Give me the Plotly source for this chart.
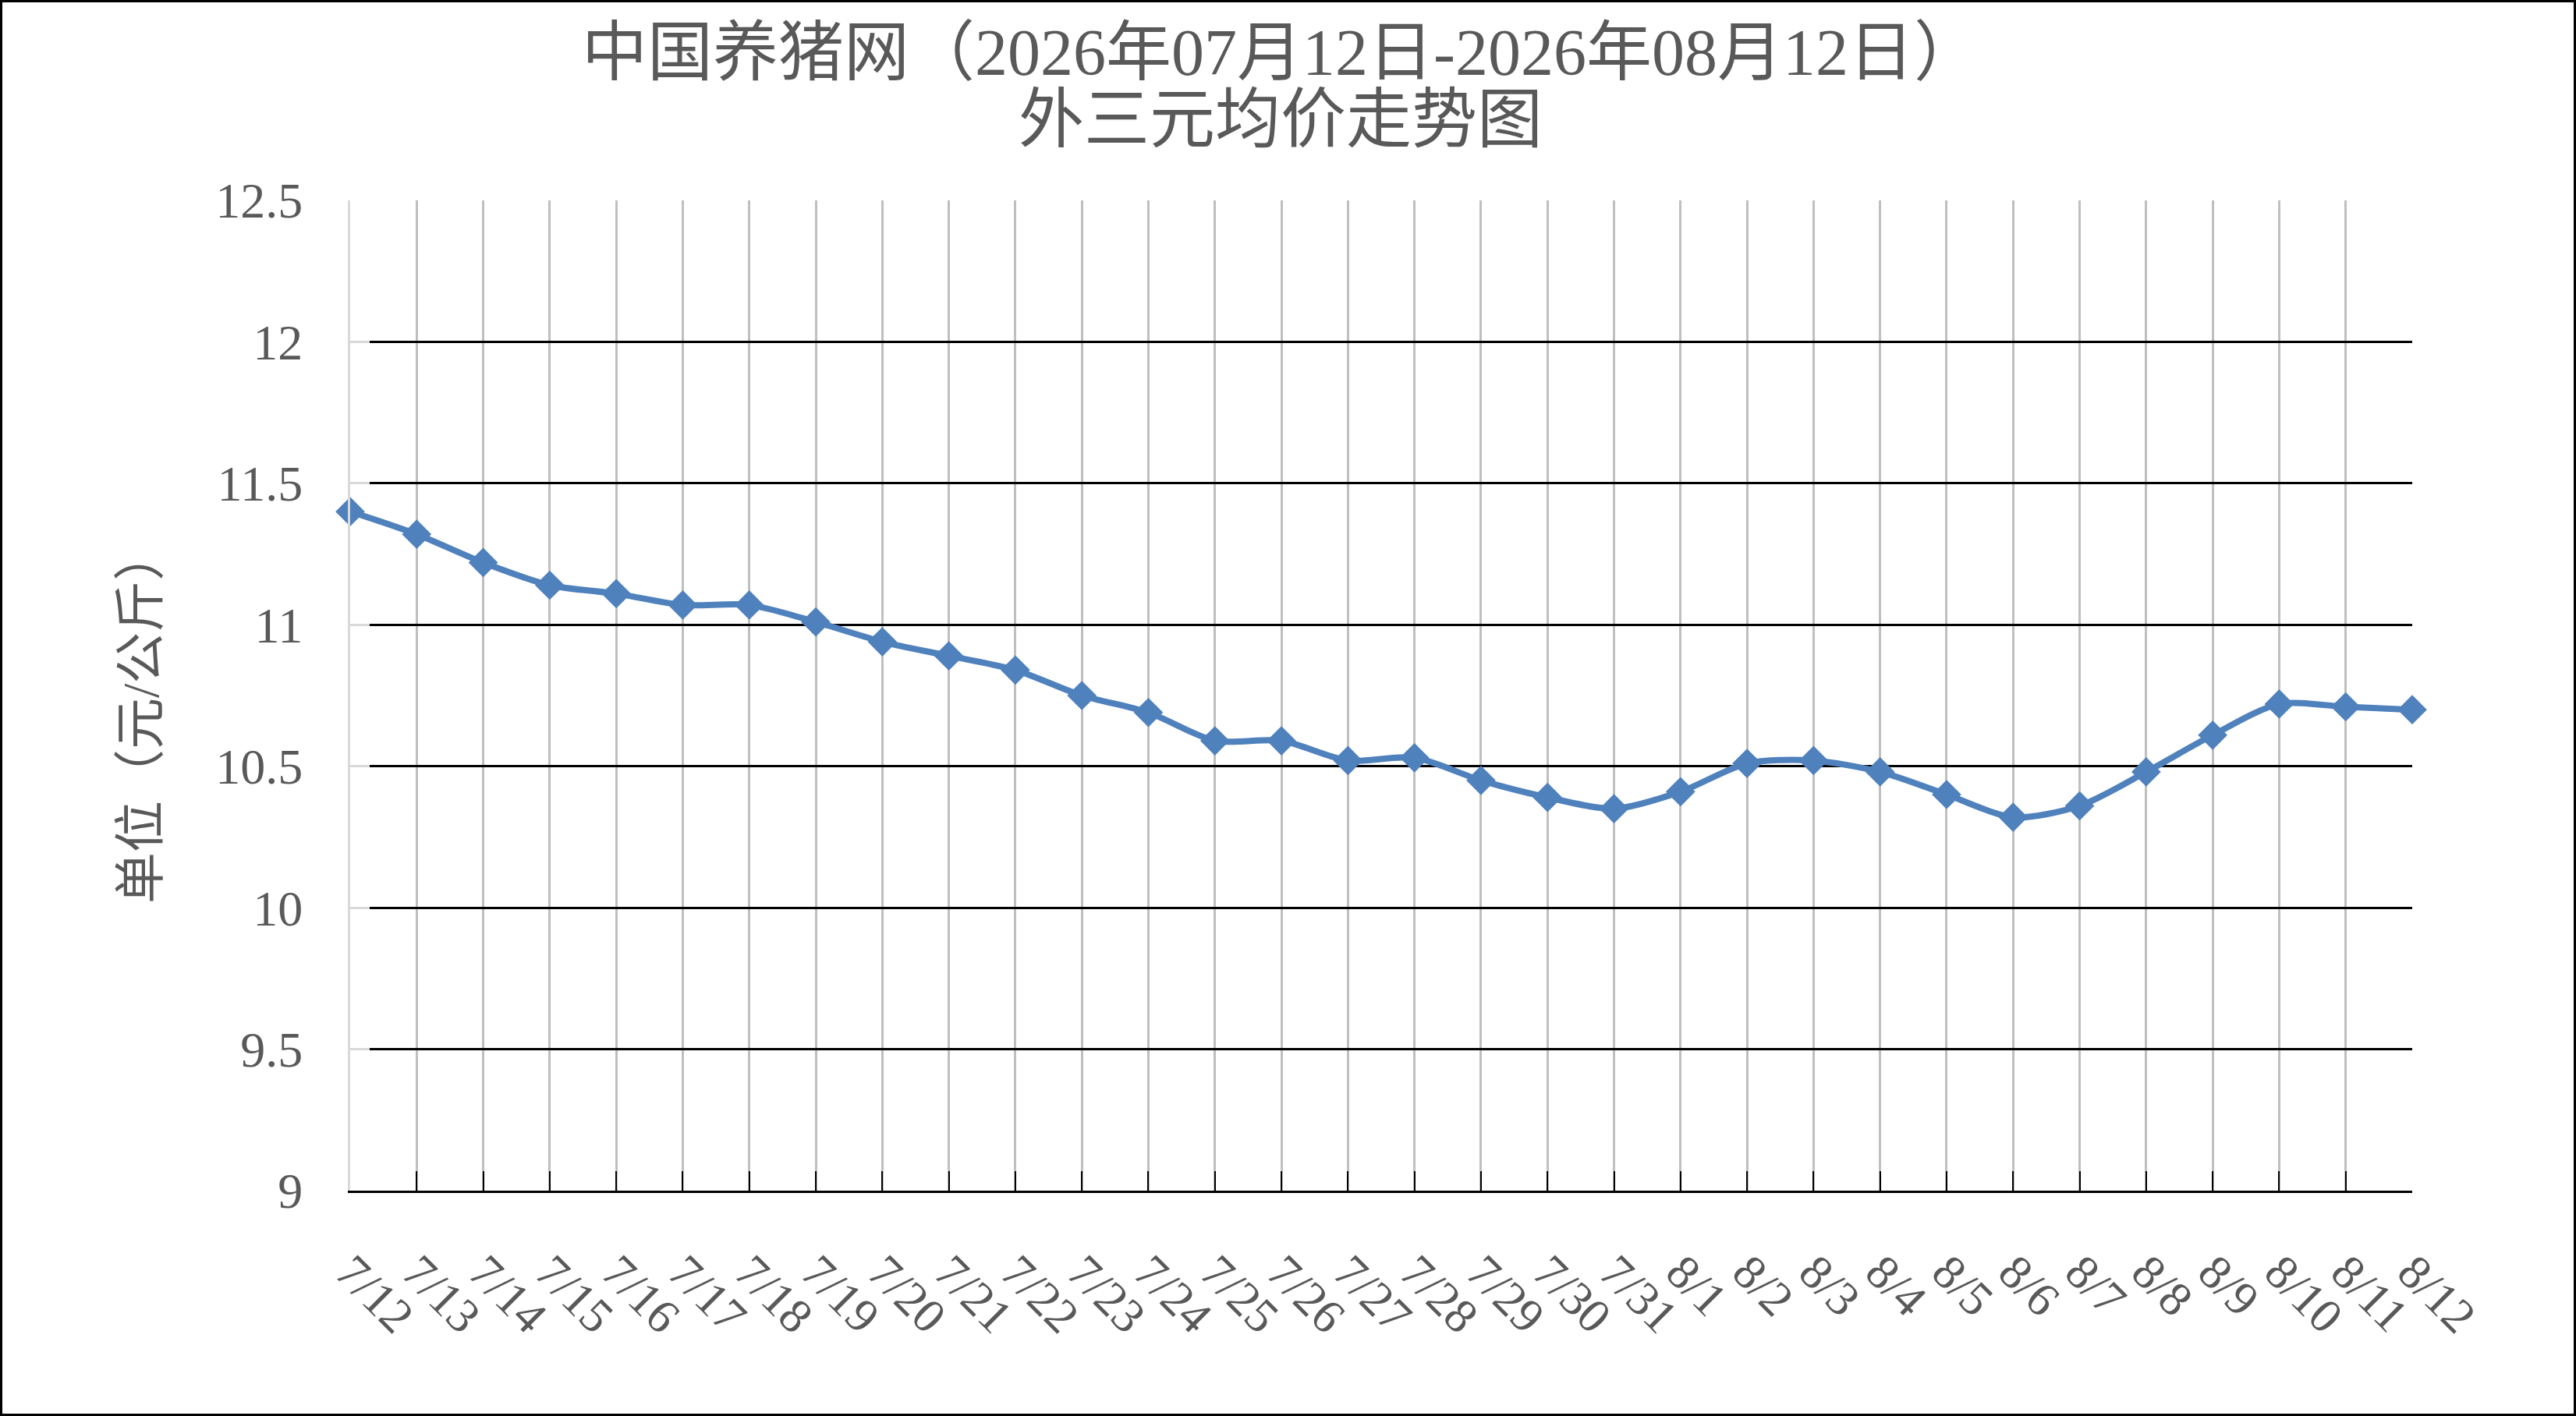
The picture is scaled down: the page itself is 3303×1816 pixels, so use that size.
import plotly.graph_objects as go

# 外三元均价 (元/公斤), 2026-07-12 .. 2026-08-12
dates = ["7/12", "7/13", "7/14", "7/15", "7/16", "7/17", "7/18", "7/19", "7/20", "7/21",
         "7/22", "7/23", "7/24", "7/25", "7/26", "7/27", "7/28", "7/29", "7/30", "7/31",
         "8/1", "8/2", "8/3", "8/4", "8/5", "8/6", "8/7", "8/8", "8/9", "8/10", "8/11", "8/12"]
prices = [11.40, 11.32, 11.22, 11.14, 11.11, 11.07, 11.07, 11.01, 10.94, 10.89,
          10.84, 10.75, 10.69, 10.59, 10.59, 10.52, 10.53, 10.45, 10.39, 10.35,
          10.41, 10.51, 10.52, 10.48, 10.40, 10.32, 10.36, 10.48, 10.61, 10.72, 10.71, 10.70]
y_ticks = [9, 9.5, 10, 10.5, 11, 11.5, 12, 12.5]

title_1 = "中国养猪网（2026年07月12日-2026年08月12日）"
title_2 = "外三元均价走势图"
y_title = "单位（元/公斤）"

W, H = 3303, 1816
L, R, T, B = 449, 210, 257, 289
pw, ph = W - L - R, H - T - B
TXT = "#595959"
FONT = "Liberation Serif, Noto Sans CJK SC, serif"
BLUE = "#4F81BD"


def px_x(x):
    return (x - L) / pw


def px_y(y):
    return 1 - (y - T) / ph


fig = go.Figure()
fig.add_trace(go.Scatter(
    x=dates, y=prices, mode="lines+markers",
    line=dict(color=BLUE, width=8, shape="spline", smoothing=0.8),
    marker=dict(symbol="diamond", size=29, color=BLUE),
    cliponaxis=False, showlegend=False,
))

fig.update_xaxes(
    type="category", range=[0, len(dates) - 1],
    showline=True, linecolor="black", linewidth=3,
    ticks="inside", ticklen=25, tickwidth=2, tickcolor="black",
    showgrid=True, gridcolor="#BFBFBF", gridwidth=3,
    tickangle=45, ticklabelstandoff=40,
    tickfont=dict(family=FONT, size=62, color=TXT),
)
fig.update_yaxes(
    range=[9, 12.5], tickvals=y_ticks,
    showline=True, linecolor="#D9D9D9", linewidth=3,
    ticks="inside", ticklen=25, tickwidth=3, tickcolor="#D9D9D9",
    showgrid=True, gridcolor="black", gridwidth=3, zeroline=False,
    ticklabelstandoff=45,
    tickfont=dict(family=FONT, size=64, color=TXT),
)

fig.add_annotation(text=title_1, xref="paper", yref="paper",
                   x=px_x(1642), y=px_y(67), showarrow=False,
                   xanchor="center", yanchor="middle",
                   font=dict(family=FONT, size=84, color=TXT))
fig.add_annotation(text=title_2, xref="paper", yref="paper",
                   x=px_x(1642), y=px_y(154), showarrow=False,
                   xanchor="center", yanchor="middle",
                   font=dict(family=FONT, size=84, color=TXT))
fig.add_annotation(text=y_title, xref="paper", yref="paper",
                   x=px_x(180), y=px_y(919), showarrow=False, textangle=-90,
                   xanchor="center", yanchor="middle",
                   font=dict(family=FONT, size=66, color=TXT))

# outer frame
fig.add_shape(type="rect", xref="paper", yref="paper",
              x0=px_x(1.5), x1=px_x(W - 1.5), y0=px_y(H - 1.5), y1=px_y(1.5),
              line=dict(color="black", width=3))

fig.update_layout(
    width=W, height=H,
    margin=dict(l=L, r=R, t=T, b=B),
    paper_bgcolor="white", plot_bgcolor="white",
    font=dict(family=FONT, color=TXT),
)

# drop the page's default body margin so the figure sits at the window origin
fig.write_html("out.html", config={"displayModeBar": False},
               post_script="document.body.style.margin='0';document.body.style.overflow='hidden';")
